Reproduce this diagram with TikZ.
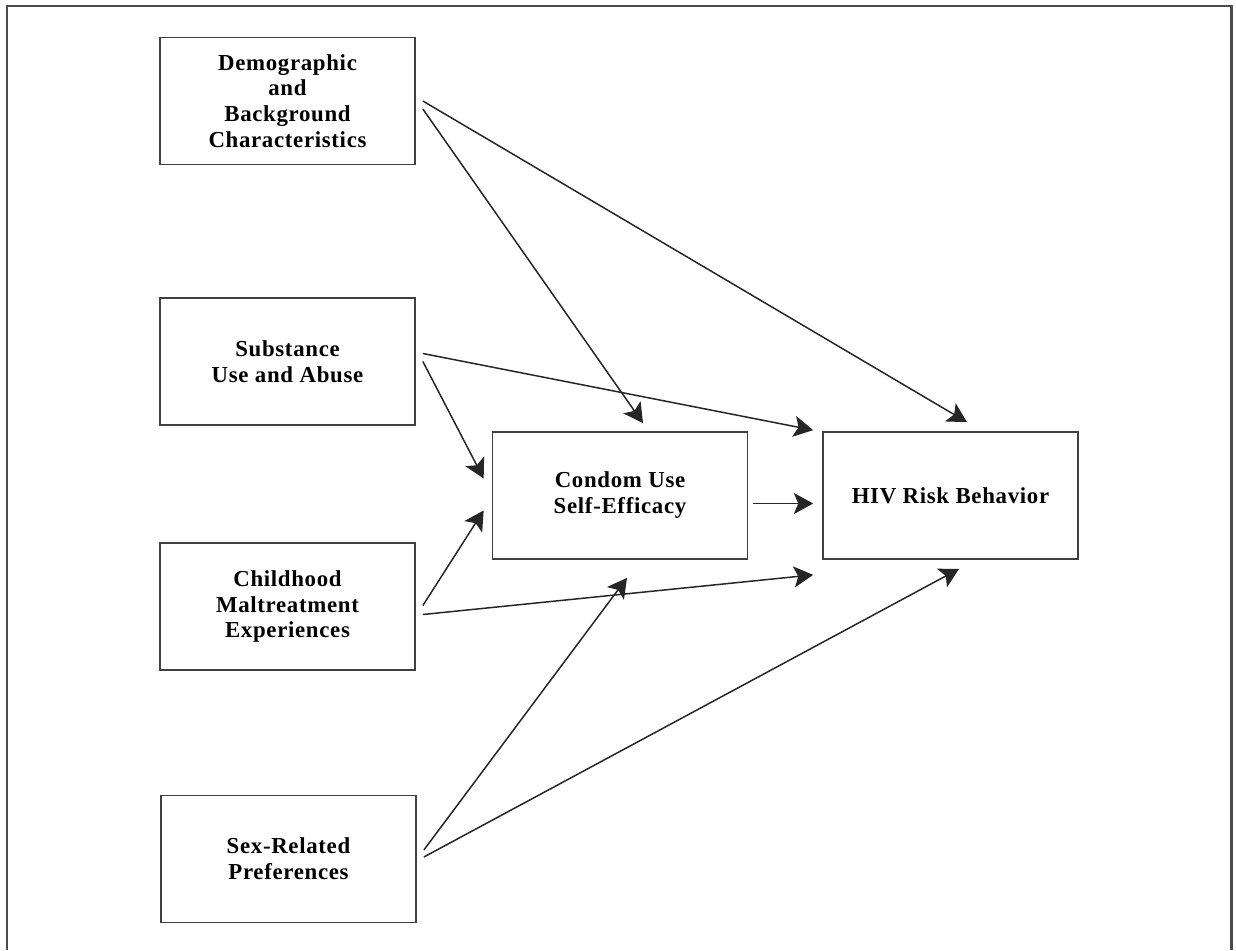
\documentclass[tikz,border=0pt]{standalone}
\usepackage{fontspec}
\setmainfont{Liberation Serif}[LetterSpace=3]
\usetikzlibrary{arrows.meta}

\begin{document}
\begin{tikzpicture}[x=0.02cm, y=-0.02cm,
    box/.style={draw=black!75, line width=1pt, minimum width=5.1cm,
      minimum height=2.54cm, inner sep=0pt, align=center,
      font=\fontsize{13}{14.7}\selectfont\bfseries},
    link/.style={draw=black!85, line width=0.85pt,
      -{Stealth[length=11pt, width=12pt, inset=2.5pt]}}]
  \useasboundingbox (0,0) rectangle (1236,950);
  % open frame round the figure
  \draw[black!70, line width=1.7pt] (7,950) -- (7,6) -- (1231,6) -- (1231,950);

  \node[box] (demo) at (287.5,101) {Demographic\\and\\Background\\Characteristics};
  \node[box] (subst) at (287.5,361.5) {Substance\\Use and Abuse};
  \node[box] (child) at (287.5,606.5) {Childhood\\Maltreatment\\Experiences};
  \node[box] (sexpref) at (288.5,859) {Sex-Related\\Preferences};
  \node[box] (condom) at (620,495.5)
    {\raisebox{-3pt}{\begin{tabular}{@{}c@{}}Condom Use\\Self-Efficacy\end{tabular}}};
  \node[box] (hiv) at (950.5,495.5) {\raisebox{-6pt}{HIV Risk Behavior}};

  % paths into the mediator
  \draw[link] ([shift={(7,8)}]demo.east) -- ([shift={(23,-8)}]condom.north);
  \draw[link] ([shift={(7,0)}]subst.east) -- ([shift={(-8,-17)}]condom.west);
  \draw[link] ([shift={(7,-1)}]child.east) -- ([shift={(-8,15)}]condom.west);
  \draw[link] ([shift={(7,-9)}]sexpref.east) -- ([shift={(7,18)}]condom.south);

  % paths into the outcome
  \draw[link] ([shift={(7,0)}]demo.east) -- ([shift={(16.5,-9)}]hiv.north);
  \draw[link] ([shift={(7,-8)}]subst.east) -- ([shift={(-9,-1)}]hiv.north west);
  \draw[link] ([shift={(5,8)}]condom.east) -- ([shift={(-9,8)}]hiv.west);
  \draw[link] ([shift={(7,8)}]child.east) -- ([shift={(-9,15)}]hiv.south west);
  \draw[link] ([shift={(7,-2)}]sexpref.east) -- ([shift={(8.5,9)}]hiv.south);
\end{tikzpicture}
\end{document}
